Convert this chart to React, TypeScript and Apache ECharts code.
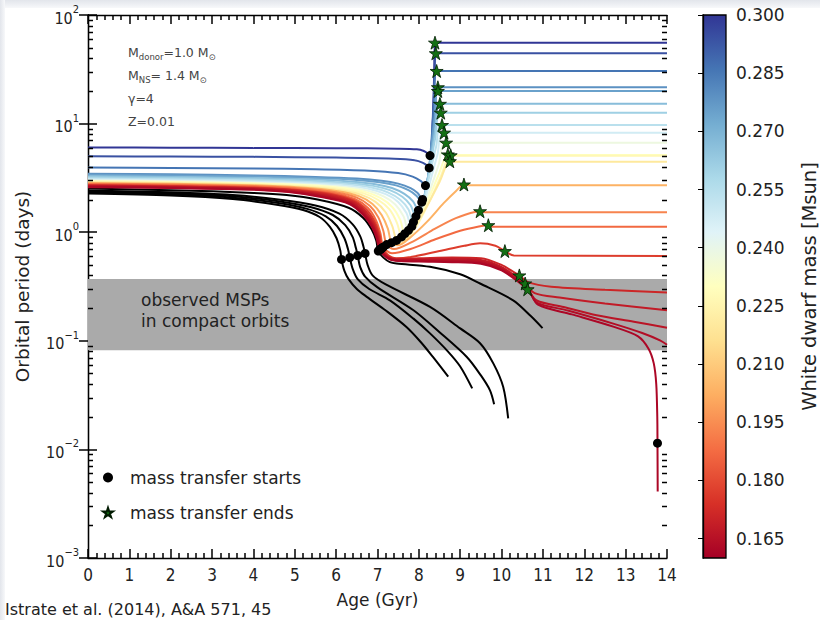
import { useEffect, useRef } from 'react';
import * as echarts from 'echarts';

type Pt = [number, number];

const FONT = "'DejaVu Sans', sans-serif";
const TICK_FONT = "'DejaVu Sans Condensed', 'DejaVu Sans', sans-serif";
const TEXT = '#222222';

// Axis ranges
const ageRange: Pt = [0, 14];
const periodRange: Pt = [0.001, 100];
const periodDecades = [0.001, 0.01, 0.1, 1, 10, 100];
const massRange: Pt = [0.16, 0.3];
const massTicks = [0.165, 0.18, 0.195, 0.21, 0.225, 0.24, 0.255, 0.27, 0.285, 0.3];

// Observed compact-orbit MSPs (days)
const mspBandLow = 0.082;
const mspBandHigh = 0.37;

// Final white dwarf mass of every track (null: no WD formed within a Hubble time)
const trackMass: (number | null)[] = [
  null, null, null, null, null,
  0.3, 0.294, 0.286, 0.279, 0.275, 0.267, 0.261, 0.254, 0.248, 0.238, 0.23,
  0.227, 0.22, 0.203, 0.193, 0.187, 0.177, 0.171, 0.168, 0.166, 0.164, 0.162,
];

// Orbital period evolution [age Gyr, period days]
const tracks: Pt[][] = [
  // black: ultra-compact / still evolving
  [[0, 2.27], [2, 2.18], [3.5, 2.02], [4.6, 1.78], [5.2, 1.6], [5.6, 1.38], [5.85, 1.12], [6.01, 0.88], [6.1, 0.68], [6.13, 0.561], [6.2, 0.44], [6.3, 0.37], [6.5, 0.3], [6.74, 0.254], [7.2, 0.19], [7.7, 0.134], [8.05, 0.097], [8.34, 0.071], [8.71, 0.0467]],
  [[0, 2.32], [2, 2.23], [3.5, 2.08], [4.6, 1.86], [5.3, 1.64], [5.75, 1.4], [6.02, 1.14], [6.2, 0.88], [6.29, 0.69], [6.33, 0.585], [6.4, 0.46], [6.52, 0.37], [6.8, 0.3], [7.3, 0.236], [7.87, 0.16], [8.27, 0.117], [8.7, 0.08], [9.0, 0.058], [9.29, 0.0365]],
  [[0, 2.37], [2, 2.28], [3.5, 2.14], [4.6, 1.93], [5.4, 1.7], [5.92, 1.44], [6.22, 1.16], [6.4, 0.9], [6.48, 0.71], [6.52, 0.61], [6.58, 0.48], [6.7, 0.39], [7.0, 0.31], [7.87, 0.191], [8.5, 0.12], [9.16, 0.071], [9.5, 0.048], [9.72, 0.035], [9.82, 0.0261]],
  [[0, 2.42], [2, 2.33], [3.5, 2.2], [4.6, 2.0], [5.5, 1.76], [6.08, 1.48], [6.4, 1.18], [6.58, 0.92], [6.66, 0.74], [6.7, 0.637], [6.76, 0.5], [6.88, 0.4], [7.2, 0.33], [8.27, 0.205], [9.0, 0.13], [9.48, 0.095], [9.8, 0.062], [10.04, 0.0376], [10.16, 0.0193]],
  [[0, 2.52], [2, 2.44], [4, 2.3], [4.8, 2.2], [5.55, 2.0], [6.3, 1.68], [6.65, 1.36], [6.86, 1.06], [6.97, 0.84], [7.02, 0.67], [7.15, 0.58], [7.3, 0.53], [7.46, 0.515], [8.27, 0.48], [9.0, 0.41], [9.48, 0.337], [10.28, 0.236], [10.7, 0.17], [10.99, 0.131]],
  // coloured: mass transfer ends, He WD + MSP
  [[0, 6.02], [2, 6.0], [4, 5.97], [6, 5.94], [7.5, 5.88], [7.95, 5.8], [8.12, 5.6], [8.22, 5.3], [8.27, 5.08], [8.31, 6.5], [8.34, 12], [8.37, 28], [8.39, 55.6], [14, 55.6]],
  [[0, 5.0], [2, 4.98], [4, 4.94], [6, 4.87], [7.4, 4.75], [7.9, 4.6], [8.1, 4.35], [8.2, 4.1], [8.25, 3.91], [8.3, 5.5], [8.34, 11], [8.38, 25], [8.41, 44.4], [14, 44.4]],
  [[0, 3.94], [2, 3.91], [4, 3.86], [5.5, 3.8], [6.8, 3.68], [7.5, 3.5], [7.85, 3.25], [8.05, 2.95], [8.16, 2.69], [8.24, 3.6], [8.3, 6.5], [8.36, 14], [8.43, 30.5], [14, 30.5]],
  [[0, 3.46], [2, 3.41], [4, 3.33], [5.5, 3.23], [6.5, 3.12], [7.1, 2.98], [7.5, 2.8], [7.8, 2.55], [7.97, 2.3], [8.09, 2.0], [8.17, 2.45], [8.24, 3.6], [8.31, 6.6], [8.39, 12.5], [8.46, 21.6], [14, 21.6]],
  [[0, 3.38], [2, 3.33], [4, 3.25], [5.5, 3.15], [6.5, 3.03], [7.05, 2.89], [7.45, 2.7], [7.75, 2.44], [7.94, 2.17], [8.07, 1.89], [8.15, 2.3], [8.23, 3.4], [8.31, 6.2], [8.39, 11.5], [8.46, 19.95], [14, 19.95]],
  [[0, 3.28], [2, 3.23], [4, 3.15], [5.5, 3.05], [6.4, 2.92], [6.95, 2.77], [7.35, 2.55], [7.65, 2.25], [7.86, 1.92], [7.99, 1.59], [8.08, 1.8], [8.18, 2.6], [8.28, 4.6], [8.4, 9.0], [8.51, 15.2], [14, 15.2]],
  [[0, 3.2], [2, 3.15], [4, 3.07], [5.5, 2.96], [6.35, 2.83], [6.9, 2.67], [7.3, 2.44], [7.6, 2.12], [7.8, 1.77], [7.93, 1.4], [8.03, 1.55], [8.15, 2.2], [8.27, 4.0], [8.4, 7.5], [8.53, 12.6], [14, 12.6]],
  [[0, 3.12], [2, 3.07], [4, 2.99], [5.4, 2.88], [6.3, 2.75], [6.85, 2.58], [7.25, 2.33], [7.55, 1.99], [7.75, 1.62], [7.87, 1.24], [7.98, 1.36], [8.12, 1.95], [8.27, 3.5], [8.42, 6.2], [8.56, 9.7], [14, 9.7]],
  [[0, 3.05], [2, 3.0], [4, 2.92], [5.4, 2.81], [6.25, 2.68], [6.8, 2.5], [7.2, 2.24], [7.5, 1.9], [7.7, 1.5], [7.83, 1.13], [7.94, 1.22], [8.1, 1.7], [8.28, 3.0], [8.45, 5.2], [8.61, 8.25], [14, 8.25]],
  [[0, 3.0], [2, 2.95], [4, 2.86], [5.3, 2.75], [6.2, 2.61], [6.75, 2.42], [7.15, 2.14], [7.43, 1.8], [7.63, 1.4], [7.75, 1.04], [7.86, 1.08], [8.05, 1.45], [8.28, 2.5], [8.48, 4.2], [8.66, 6.67], [14, 6.67]],
  [[0, 2.95], [2, 2.9], [4, 2.81], [5.3, 2.7], [6.15, 2.55], [6.7, 2.35], [7.08, 2.06], [7.36, 1.7], [7.55, 1.3], [7.66, 0.97], [7.78, 0.97], [8.0, 1.3], [8.25, 2.1], [8.48, 3.4], [8.7, 5.2], [8.8, 5.15], [14, 5.15]],
  [[0, 2.92], [2, 2.87], [4, 2.78], [5.25, 2.66], [6.1, 2.5], [6.65, 2.29], [7.02, 1.98], [7.29, 1.62], [7.47, 1.22], [7.58, 0.905], [7.7, 0.88], [7.95, 1.15], [8.25, 1.9], [8.52, 3.2], [8.77, 5.1], [8.9, 5.05], [14, 5.05]],
  [[0, 2.88], [2, 2.83], [4, 2.74], [5.2, 2.62], [6.05, 2.45], [6.6, 2.22], [6.95, 1.9], [7.2, 1.52], [7.36, 1.13], [7.46, 0.84], [7.58, 0.8], [7.85, 1.05], [8.2, 1.75], [8.5, 2.9], [8.75, 4.5], [8.85, 4.46], [14, 4.46]],
  [[0, 2.84], [2, 2.79], [4, 2.7], [5.15, 2.58], [6.0, 2.4], [6.55, 2.15], [6.88, 1.82], [7.1, 1.44], [7.25, 1.08], [7.34, 0.8], [7.5, 0.76], [7.8, 0.9], [8.2, 1.25], [8.6, 1.85], [8.9, 2.4], [9.09, 2.75], [9.2, 2.7], [14, 2.7]],
  [[0, 2.8], [2, 2.75], [4, 2.66], [5.1, 2.54], [5.95, 2.35], [6.5, 2.08], [6.82, 1.74], [7.02, 1.37], [7.14, 1.03], [7.22, 0.77], [7.4, 0.7], [7.8, 0.8], [8.3, 1.03], [8.8, 1.3], [9.25, 1.5], [9.48, 1.56], [9.6, 1.53], [14, 1.53]],
  [[0, 2.76], [2, 2.71], [4, 2.62], [5.05, 2.5], [5.9, 2.3], [6.45, 2.02], [6.77, 1.67], [6.96, 1.3], [7.07, 0.98], [7.14, 0.73], [7.35, 0.64], [7.8, 0.7], [8.4, 0.86], [9.0, 1.03], [9.45, 1.13], [9.68, 1.16], [9.8, 1.12], [14, 1.12]],
  [[0, 2.72], [2, 2.67], [4, 2.58], [5.0, 2.46], [5.85, 2.26], [6.42, 1.97], [6.74, 1.61], [6.93, 1.26], [7.05, 0.95], [7.12, 0.72], [7.25, 0.62], [7.45, 0.575], [7.8, 0.59], [8.5, 0.67], [9.1, 0.75], [9.48, 0.79], [9.85, 0.75], [10.08, 0.67], [10.3, 0.61], [14, 0.605]],
  [[0, 2.69], [2, 2.64], [4, 2.55], [5.0, 2.43], [5.8, 2.22], [6.4, 1.93], [6.71, 1.57], [6.91, 1.22], [7.03, 0.93], [7.1, 0.71], [7.25, 0.6], [7.45, 0.57], [8.0, 0.575], [8.8, 0.585], [9.5, 0.575], [10.0, 0.5], [10.25, 0.44], [10.43, 0.4], [10.65, 0.345], [11.2, 0.315], [12.5, 0.295], [14, 0.278]],
  [[0, 2.66], [2, 2.61], [4, 2.52], [4.95, 2.4], [5.75, 2.19], [6.38, 1.89], [6.69, 1.53], [6.89, 1.19], [7.01, 0.91], [7.08, 0.7], [7.25, 0.59], [7.45, 0.562], [8.0, 0.564], [8.8, 0.57], [9.5, 0.556], [10.0, 0.48], [10.35, 0.39], [10.57, 0.337], [10.8, 0.275], [11.4, 0.25], [12.5, 0.22], [14, 0.191]],
  [[0, 2.64], [2, 2.59], [4, 2.5], [4.9, 2.38], [5.7, 2.16], [6.36, 1.86], [6.67, 1.5], [6.88, 1.17], [7.0, 0.9], [7.07, 0.7], [7.25, 0.585], [7.45, 0.556], [8.0, 0.554], [8.8, 0.556], [9.5, 0.54], [10.0, 0.465], [10.4, 0.365], [10.63, 0.298], [10.85, 0.235], [11.5, 0.205], [12.3, 0.172], [13.2, 0.15], [14, 0.132]],
  [[0, 2.62], [2, 2.57], [4, 2.48], [4.9, 2.36], [5.65, 2.14], [6.34, 1.84], [6.66, 1.47], [6.87, 1.15], [6.99, 0.89], [7.06, 0.69], [7.25, 0.58], [7.45, 0.55], [8.0, 0.545], [8.8, 0.543], [9.5, 0.526], [10.0, 0.455], [10.4, 0.357], [10.66, 0.29], [10.85, 0.225], [11.6, 0.19], [12.7, 0.144], [13.4, 0.118], [13.83, 0.101], [14, 0.092]],
  [[0, 2.6], [2, 2.55], [4, 2.46], [4.85, 2.34], [5.6, 2.12], [6.32, 1.82], [6.65, 1.45], [6.86, 1.13], [6.98, 0.88], [7.05, 0.69], [7.25, 0.575], [7.45, 0.545], [8.0, 0.536], [8.8, 0.53], [9.5, 0.512], [10.0, 0.445], [10.4, 0.35], [10.67, 0.285], [10.88, 0.215], [11.7, 0.175], [12.7, 0.135], [13.3, 0.11], [13.55, 0.085], [13.68, 0.062], [13.74, 0.04], [13.765, 0.02], [13.77, 0.0114], [13.775, 0.0041]],
];

// Onset of Roche-lobe overflow [age, period]
const rloStart: Pt[] = [
  [6.13, 0.561], [6.33, 0.585], [6.52, 0.61], [6.7, 0.637], [7.02, 0.67],
  [8.27, 5.08], [8.25, 3.91], [8.16, 2.69], [8.09, 2.0], [8.07, 1.89], [7.99, 1.59], [7.93, 1.4],
  [7.87, 1.24], [7.83, 1.13], [7.75, 1.04], [7.66, 0.97], [7.58, 0.905], [7.46, 0.84], [7.34, 0.8],
  [7.22, 0.77], [7.14, 0.73], [7.12, 0.72], [7.1, 0.71], [7.08, 0.7], [7.07, 0.7], [7.06, 0.69],
  [7.05, 0.69], [13.77, 0.0114],
];

// End of mass transfer (detachment)
const rloEnd: Pt[] = [
  [8.39, 55.6], [8.41, 44.4], [8.43, 30.5], [8.46, 21.6], [8.46, 19.95], [8.51, 15.2], [8.53, 12.6],
  [8.56, 9.7], [8.61, 8.25], [8.66, 6.67], [8.7, 5.2], [8.77, 5.1], [8.75, 4.5], [9.09, 2.75],
  [9.48, 1.56], [9.68, 1.16], [10.08, 0.67], [10.43, 0.4], [10.57, 0.337], [10.63, 0.298],
];

// RdYlBu colour scale, low to high
const RDYLBU = ['#a50026', '#d73027', '#f46d43', '#fdae61', '#fee090', '#ffffbf', '#e0f3f8', '#abd9e9', '#74add1', '#4575b4', '#313695'];

function hexToRgb(h: string): number[] {
  return [1, 3, 5].map((i) => parseInt(h.slice(i, i + 2), 16));
}

function massColor(m: number): string {
  const t = Math.min(1, Math.max(0, (m - massRange[0]) / (massRange[1] - massRange[0])));
  const pos = t * (RDYLBU.length - 1);
  const i = Math.min(RDYLBU.length - 2, Math.floor(pos));
  const f = pos - i;
  const a = hexToRgb(RDYLBU[i]);
  const b = hexToRgb(RDYLBU[i + 1]);
  const c = a.map((v, k) => Math.round(v + (b[k] - v) * f));
  return `rgb(${c[0]},${c[1]},${c[2]})`;
}

const STAR = 'path://M0,-10L2.245,-3.09L9.511,-3.09L3.633,1.18L5.878,8.09L0,3.82L-5.878,8.09L-3.633,1.18L-9.511,-3.09L-2.245,-3.09Z';

// 2..9 x 10^k inside every decade of the period axis
function minorLogTicks(): number[] {
  const out: number[] = [];
  for (let k = 0; k < periodDecades.length - 1; k++) {
    for (let j = 2; j <= 9; j++) out.push(+(j * periodDecades[k]).toPrecision(3));
  }
  return out;
}

function powerLabel(v: number): string {
  const e = Math.round(Math.log10(v));
  return `{b|10}{e|${e < 0 ? '\u2212' + -e : e}}`;
}

export default function App() {
  const ref = useRef<HTMLDivElement>(null);

  useEffect(() => {
    if (!ref.current) return;
    const chart = echarts.init(ref.current, undefined, { renderer: 'svg' });
    const minor = minorLogTicks();
    const grid = { left: 88, top: 15, width: 579, height: 543 };
    const cb = { left: 703, top: 15, width: 23, height: 543 };

    const logAxisBase = {
      type: 'log' as const,
      logBase: 10,
      min: periodRange[0],
      max: periodRange[1],
      gridIndex: 0,
      splitLine: { show: false },
    };
    const tickLine = { color: '#000', width: 1.5 };

    const lineSeries = tracks.map((pts, i) => {
      const m = trackMass[i];
      return {
        type: 'line',
        data: pts,
        xAxisIndex: 0,
        yAxisIndex: 0,
        showSymbol: false,
        symbol: 'none',
        smooth: 0.3,
        silent: true,
        z: 3,
        lineStyle: { width: 2, color: m === null ? '#000000' : massColor(m) },
      };
    });

    const option: any = {
      animation: false,
      textStyle: { fontFamily: FONT },
      grid: [grid, cb],
      xAxis: [
        {
          type: 'value', gridIndex: 0, position: 'bottom', min: ageRange[0], max: ageRange[1], interval: 1,
          axisLine: { lineStyle: { color: '#000', width: 1.3 } },
          axisTick: { show: true, inside: true, length: 9, lineStyle: tickLine },
          minorTick: { show: true, splitNumber: 5, length: 5, lineStyle: tickLine },
          splitLine: { show: false },
          axisLabel: { fontSize: 17, color: TEXT, margin: 8, fontFamily: TICK_FONT },
          name: 'Age (Gyr)', nameLocation: 'middle', nameGap: 33,
          nameTextStyle: { fontSize: 17, color: TEXT, fontFamily: FONT },
        },
        {
          type: 'value', gridIndex: 0, position: 'top', min: ageRange[0], max: ageRange[1], interval: 1,
          axisLine: { lineStyle: { color: '#000', width: 1.3 } },
          axisTick: { show: true, inside: true, length: 9, lineStyle: tickLine },
          minorTick: { show: true, splitNumber: 5, length: 5, lineStyle: tickLine },
          splitLine: { show: false },
          axisLabel: { show: false },
        },
        { type: 'value', gridIndex: 1, min: 0, max: 1, show: false },
      ],
      yAxis: [
        {
          ...logAxisBase, position: 'left',
          axisLine: { show: true, lineStyle: { color: '#000', width: 1.3 } },
          axisTick: { show: true, inside: true, length: 9, lineStyle: tickLine, customValues: periodDecades },
          axisLabel: {
            margin: 9, customValues: periodDecades, formatter: powerLabel,
            rich: {
              b: { fontSize: 16, color: TEXT, fontFamily: TICK_FONT, lineHeight: 22, verticalAlign: 'bottom' },
              e: { fontSize: 11, color: TEXT, fontFamily: TICK_FONT, lineHeight: 22, verticalAlign: 'top' },
            },
          },
          name: 'Orbital period (days)', nameLocation: 'middle', nameGap: 56, nameRotate: 90,
          nameTextStyle: { fontSize: 18.5, color: TEXT, fontFamily: FONT },
        },
        {
          ...logAxisBase, position: 'right',
          axisLine: { show: true, lineStyle: { color: '#000', width: 1.3 } },
          axisTick: { show: true, inside: true, length: 9, lineStyle: tickLine, customValues: periodDecades },
          axisLabel: { show: false },
        },
        {
          type: 'value', gridIndex: 1, position: 'right', min: massRange[0], max: massRange[1],
          axisLine: { show: true, lineStyle: { color: '#000', width: 1.3 } },
          axisTick: { show: true, inside: true, length: 5, lineStyle: { color: '#000' }, customValues: massTicks },
          axisLabel: {
            customValues: massTicks, margin: 10, fontSize: 17, color: TEXT, fontFamily: FONT,
            formatter: (v: number) => v.toFixed(3),
          },
          splitLine: { show: false },
          name: 'White dwarf mass [Msun]', nameLocation: 'middle', nameGap: 73, nameRotate: 90,
          nameTextStyle: { fontSize: 19.5, color: TEXT, fontFamily: FONT },
        },
      ],
      legend: {
        data: ['mass transfer starts', 'mass transfer ends'],
        orient: 'vertical', left: 97, top: 462, itemWidth: 10, itemHeight: 10, itemGap: 14,
        selectedMode: false,
        textStyle: { fontSize: 17, color: TEXT, fontFamily: FONT, padding: [0, 0, 0, 12], lineHeight: 21 },
      },
      graphic: [
        {
          type: 'rect', silent: true, z: -10,
          shape: { x: 0, y: 0, width: 820, height: 8 },
          style: { fill: new echarts.graphic.LinearGradient(0, 0, 0, 1, [{ offset: 0, color: '#e2e5eb' }, { offset: 1, color: '#f7f8fa' }]) },
        },
        {
          type: 'rect', silent: true, z: -10,
          shape: { x: 0, y: 0, width: 5, height: 620 },
          style: { fill: new echarts.graphic.LinearGradient(0, 0, 1, 0, [{ offset: 0, color: '#e2e5eb' }, { offset: 1, color: '#f7f8fa' }]) },
        },
        {
          type: 'rect', silent: true, z: 0,
          shape: { x: cb.left, y: cb.top, width: cb.width, height: cb.height },
          style: {
            fill: new echarts.graphic.LinearGradient(0, 0, 0, 1,
              RDYLBU.slice().reverse().map((c, i) => ({ offset: i / (RDYLBU.length - 1), color: c }))),
            stroke: '#000', lineWidth: 1.3,
          },
        },
        {
          type: 'text', x: 128, y: 52, silent: true,
          style: {
            text: '{m|M}{s|donor}{m|=1.0 M}{s|\u2299}', verticalAlign: 'middle',
            rich: {
              m: { fontSize: 12.5, fill: '#444', fontFamily: FONT, lineHeight: 18, verticalAlign: 'middle' },
              s: { fontSize: 8.5, fill: '#444', fontFamily: FONT, lineHeight: 18, verticalAlign: 'bottom' },
            },
          },
        },
        {
          type: 'text', x: 128, y: 75, silent: true,
          style: {
            text: '{m|M}{s|NS}{m|= 1.4 M}{s|\u2299}', verticalAlign: 'middle',
            rich: {
              m: { fontSize: 12.5, fill: '#444', fontFamily: FONT, lineHeight: 18, verticalAlign: 'middle' },
              s: { fontSize: 8.5, fill: '#444', fontFamily: FONT, lineHeight: 18, verticalAlign: 'bottom' },
            },
          },
        },
        {
          type: 'text', x: 128, y: 98, silent: true,
          style: { text: '\u03b3=4', fontSize: 12.5, fill: '#444', fontFamily: FONT, verticalAlign: 'middle' },
        },
        {
          type: 'text', x: 128, y: 121, silent: true,
          style: { text: 'Z=0.01', fontSize: 12.5, fill: '#444', fontFamily: FONT, verticalAlign: 'middle' },
        },
        {
          type: 'text', x: 141, y: 300, silent: true, z: 10,
          style: { text: 'observed MSPs', fontSize: 17, fill: TEXT, fontFamily: FONT, verticalAlign: 'middle' },
        },
        {
          type: 'text', x: 141, y: 321, silent: true, z: 10,
          style: { text: 'in compact orbits', fontSize: 17, fill: TEXT, fontFamily: FONT, verticalAlign: 'middle' },
        },
        {
          type: 'text', x: 5, y: 609, silent: true,
          style: { text: 'Istrate et al. (2014), A&A 571, 45', fontSize: 16, fill: TEXT, fontFamily: FONT, verticalAlign: 'middle' },
        },
      ],
      series: [
        {
          type: 'custom',
          xAxisIndex: 0,
          yAxisIndex: 0,
          silent: true,
          z: 1,
          data: [[ageRange[0], mspBandLow, ageRange[1], mspBandHigh]],
          encode: { x: [0, 2], y: [1, 3] },
          renderItem: (_p: any, api: any) => {
            const a = api.coord([api.value(0), api.value(3)]);
            const b = api.coord([api.value(2), api.value(1)]);
            return {
              type: 'rect',
              shape: { x: a[0], y: a[1], width: b[0] - a[0], height: b[1] - a[1] },
              style: { fill: '#aaaaaa' },
            };
          },
        },
        {
          // minor ticks of the logarithmic period axis, on both frame sides
          type: 'custom',
          xAxisIndex: 0,
          yAxisIndex: 0,
          silent: true,
          z: 8,
          data: minor.map((v) => [ageRange[0], v]),
          renderItem: (params: any, api: any) => {
            const cs = params.coordSys;
            const y = Math.round(api.coord([api.value(0), api.value(1)])[1]) + 0.5;
            const st = { stroke: '#000', lineWidth: 1.5 };
            return {
              type: 'group',
              children: [
                { type: 'line', shape: { x1: cs.x, y1: y, x2: cs.x + 5, y2: y }, style: st },
                { type: 'line', shape: { x1: cs.x + cs.width - 5, y1: y, x2: cs.x + cs.width, y2: y }, style: st },
              ],
            };
          },
        },
        ...lineSeries,
        {
          name: 'mass transfer starts',
          type: 'scatter',
          xAxisIndex: 0,
          yAxisIndex: 0,
          data: rloStart,
          symbol: 'circle',
          symbolSize: 9,
          silent: true,
          z: 6,
          itemStyle: { color: '#000000', opacity: 1 },
        },
        {
          name: 'mass transfer ends',
          type: 'scatter',
          xAxisIndex: 0,
          yAxisIndex: 0,
          data: rloEnd,
          symbol: STAR,
          symbolSize: 13,
          silent: true,
          z: 7,
          itemStyle: { color: '#147014', borderColor: '#001a00', borderWidth: 0.8, opacity: 1 },
        },
      ],
    };

    chart.setOption(option);
    return () => chart.dispose();
  }, []);

  return (
    <div
      ref={ref}
      style={{ position: 'fixed', left: 0, top: 0, width: 820, height: 620, background: '#ffffff' }}
    />
  );
}
